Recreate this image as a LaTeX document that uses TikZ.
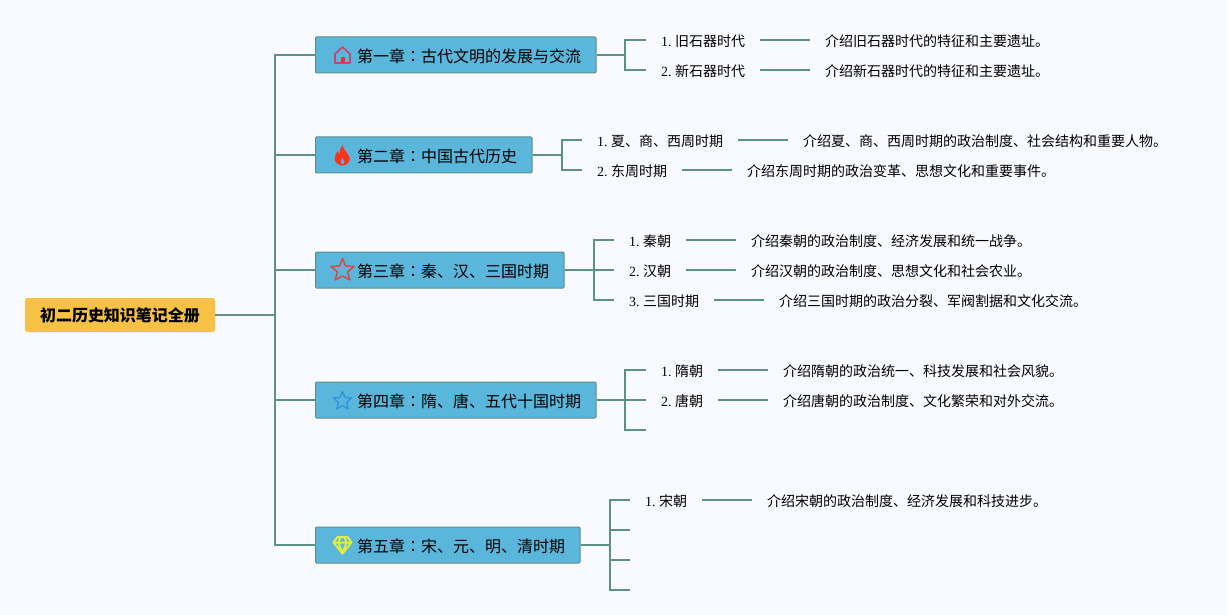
\documentclass[tikz,border=0pt]{standalone}
\usepackage{fontspec}
\setmainfont{Liberation Serif}
\newfontfamily\cjk{Noto Sans CJK SC}
\newfontfamily\cjkjp{Noto Sans CJK JP}
\frenchspacing
\definecolor{bgc}{HTML}{F9FAFF}
\definecolor{linec}{HTML}{5B9186}
\definecolor{boxc}{HTML}{5AB6DA}
\definecolor{rootc}{HTML}{F6C145}
\newcommand{\li}[2]{#1. {\cjk #2}}
\newcommand{\cn}{{\cjkjp ：}}
\tikzset{
  chapbox/.style={draw=linec,line width=1pt,fill=boxc,rounded corners=1pt,minimum height=36pt,inner sep=0pt,anchor=west,text=black},
  chaptext/.style={anchor=west,inner sep=0pt,font=\cjk\fontsize{16}{16}\selectfont},
  rootbox/.style={fill=rootc,rounded corners=2.5pt,minimum width=190pt,minimum height=34pt,inner sep=0pt,font=\cjk\bfseries\fontsize{16}{16}\selectfont},
  subnode/.style={anchor=west,inner sep=0pt,font=\fontsize{14}{14}\selectfont},
  descnode/.style={anchor=west,inner sep=0pt,font=\cjk\fontsize{14}{14}\selectfont},
  conn/.style={draw=linec,line width=2.1pt},
}
\begin{document}
\begin{tikzpicture}[x=1pt,y=-1pt]
\path[fill=bgc] (0,0) rectangle (1227,615);
\useasboundingbox (0,0) rectangle (1227,615);
\node[rootbox] (root) at (120,315) {初二历史知识笔记全册};
\node[chapbox,minimum width=280.5pt] (c1) at (315,55) {};
\node[chapbox,minimum width=216.5pt] (c2) at (315,155) {};
\node[chapbox,minimum width=248.5pt] (c3) at (315,270) {};
\node[chapbox,minimum width=280.5pt] (c4) at (315,400) {};
\node[chapbox,minimum width=264.5pt] (c5) at (315,545) {};
\foreach \n/\y/\t in {c1/56/第一章\cn 古代文明的发展与交流,c2/156/第二章\cn 中国古代历史,c3/271/第三章\cn 秦、汉、三国时期,c4/401/第四章\cn 隋、唐、五代十国时期,c5/546/第五章\cn 宋、元、明、清时期}
  \node[chaptext] (t\n) at (357,\y) {\t};
% icons
\definecolor{ihouse}{HTML}{D0406E}
\definecolor{idoor}{HTML}{E8303C}
\definecolor{ifire}{HTML}{F8341A}
\definecolor{istar}{HTML}{CF4F45}
\definecolor{iblue}{HTML}{2F96E0}
\definecolor{igem}{HTML}{E2EE3E}
\draw[draw=ihouse,line width=1.6pt,line join=round] (342.5,47) -- (350,54) -- (350,63) -- (335,63) -- (335,54) -- cycle;
\fill[idoor] (340.5,63) -- (340.5,57.5) -- (344.5,57.5) -- (344.5,63) -- cycle;
\fill[ifire,even odd rule] (342.5,145) .. controls (343.5,149) and (346,151) .. (347.5,154) .. controls (349.5,156.5) and (350,158) .. (349.8,159.5) .. controls (349.5,162.5) and (346,165.5) .. (342.5,165.5) .. controls (338.5,165.5) and (335,162.5) .. (334.7,159) .. controls (334.5,156.5) and (336,153.5) .. (337.5,151) .. controls (338,152.5) and (338.5,153.5) .. (339.3,154) .. controls (339.3,151) and (340.5,147.5) .. (342.5,145) -- cycle
  (342.5,158) .. controls (343,159.5) and (344.5,160.5) .. (344.4,162) .. controls (344.2,163.2) and (343.5,164) .. (342.5,164) .. controls (341.5,164) and (340.8,163.2) .. (340.6,162) .. controls (340.5,160.5) and (342,159.5) .. (342.5,158) -- cycle;
\draw[draw=istar,line width=1.5pt,line join=round] (342.5,258.5) -- (345.5,266) -- (354,266.5) -- (347.5,272) -- (350,280) -- (342.5,276) -- (335,280) -- (337.5,272) -- (331,266.5) -- (339.5,266) -- cycle;
\draw[draw=iblue,line width=1.4pt,line join=round] (342.5,391.5) -- (345,397.5) -- (351.5,398) -- (346.5,402.5) -- (348.2,409) -- (342.5,405.5) -- (336.8,409) -- (338.5,402.5) -- (333.5,398) -- (340,397.5) -- cycle;
\draw[igem,line width=2pt,line join=round] (337.5,537) -- (347.5,537) -- (351.5,542.5) -- (342.5,553.5) -- (333.5,542.5) -- cycle (333.5,542.5) -- (351.5,542.5) (338.5,542.5) -- (342.5,553.5) -- (346.5,542.5) (338.5,542.5) -- (340.5,537) (346.5,542.5) -- (344.5,537);
% trunk
\coordinate (tr) at (275,315);
\draw[conn] (root.east) -- (tr);
\foreach \c in {c1,c2,c3,c4,c5} \draw[conn] (tr) |- (\c.west);
% level 2
\newcommand{\branch}[5]{%
  \coordinate (#4) at (#3,#5);
  \draw[conn] (#1.east) -| (#2,#5) -- (#4);}
\branch{c1}{625}{646}{e11}{40}\branch{c1}{625}{646}{e12}{70}
\branch{c2}{562}{582}{e21}{140}\branch{c2}{562}{582}{e22}{170}
\branch{c3}{594}{614}{e31}{240}\branch{c3}{594}{614}{e32}{270}\branch{c3}{594}{614}{e33}{300}
\branch{c4}{625}{646}{e41}{370}\branch{c4}{625}{646}{e42}{400}\branch{c4}{625}{646}{e43}{430}
\branch{c5}{610}{630}{e51}{500}\branch{c5}{610}{630}{e52}{530}\branch{c5}{610}{630}{e53}{560}\branch{c5}{610}{630}{e54}{590}
% leaves
\newcommand{\leafrow}[8]{%
  \node[subnode] (s#1) at (#3,#2) {\li{#4}{#5}};
  \node[descnode] (d#1) at (#7,#2) {#8};
  \coordinate (la#1) at (#6,#2-1.5);
  \draw[conn] (la#1) -- ++(50,0);}
\leafrow{11}{41.5}{661}{1}{旧石器时代}{760}{825}{介绍旧石器时代的特征和主要遗址。}
\leafrow{12}{71.5}{661}{2}{新石器时代}{760}{825}{介绍新石器时代的特征和主要遗址。}
\leafrow{21}{141.5}{597}{1}{夏、商、西周时期}{738}{803}{介绍夏、商、西周时期的政治制度、社会结构和重要人物。}
\leafrow{22}{171.5}{597}{2}{东周时期}{682}{747}{介绍东周时期的政治变革、思想文化和重要事件。}
\leafrow{31}{241.5}{629}{1}{秦朝}{686}{751}{介绍秦朝的政治制度、经济发展和统一战争。}
\leafrow{32}{271.5}{629}{2}{汉朝}{686}{751}{介绍汉朝的政治制度、思想文化和社会农业。}
\leafrow{33}{301.5}{629}{3}{三国时期}{714}{779}{介绍三国时期的政治分裂、军阀割据和文化交流。}
\leafrow{41}{371.5}{661}{1}{隋朝}{718}{783}{介绍隋朝的政治统一、科技发展和社会风貌。}
\leafrow{42}{401.5}{661}{2}{唐朝}{718}{783}{介绍唐朝的政治制度、文化繁荣和对外交流。}
\leafrow{51}{501.5}{645}{1}{宋朝}{702}{767}{介绍宋朝的政治制度、经济发展和科技进步。}
\end{tikzpicture}
\end{document}
